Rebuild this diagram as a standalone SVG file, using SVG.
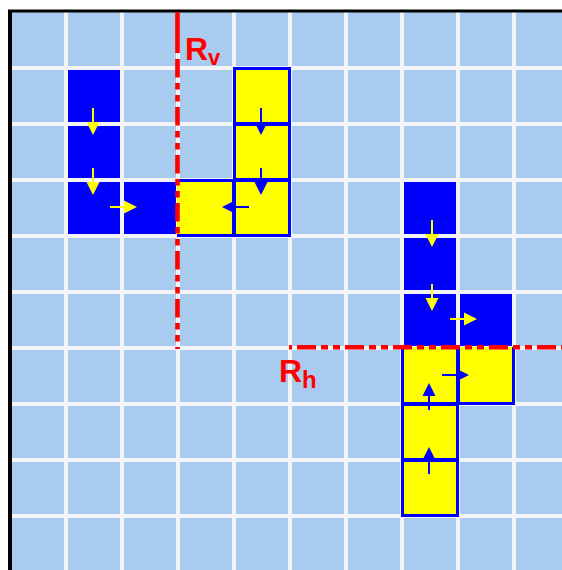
<svg xmlns="http://www.w3.org/2000/svg" width="562" height="570" viewBox="0 0 562 570">
<style>
.grid line{stroke:#F3F4F6;stroke-width:4}
.blue{fill:#0000FF}
.yel{fill:#FFFF00;stroke:#0000FF;stroke-width:3}
.cover{stroke:#FFFF00;stroke-width:3}
.red{stroke:#FF0000;stroke-width:4.6;fill:none}
.lbl{font-family:"Liberation Sans",Arial,sans-serif;font-weight:bold;fill:#FF0000}
</style>
<defs>
<g id="aY"><line x1="-14" y1="0" x2="2" y2="0" stroke="#FFFF00" stroke-width="2"/><polygon points="0,-6.5 13,0 0,6.5" fill="#FFFF00"/></g>
<g id="aB"><line x1="-14" y1="0" x2="2" y2="0" stroke="#0000FF" stroke-width="2"/><polygon points="0,-6.5 13,0 0,6.5" fill="#0000FF"/></g>
</defs>
<rect x="0" y="0" width="562" height="570" fill="#FFFFFF"/>
<rect x="10" y="12" width="552" height="558" fill="#A8CBEF"/>
<g id="blue-left">
<rect class="blue" x="66" y="68" width="56" height="168"/>
<rect class="blue" x="122" y="180" width="56" height="56"/>
</g>
<g id="blue-right">
<rect class="blue" x="402" y="180" width="56" height="168"/>
<rect class="blue" x="458" y="292" width="56" height="56"/>
</g>
<g class="grid">
<line x1="66" y1="12" x2="66" y2="570"/>
<line x1="122" y1="12" x2="122" y2="570"/>
<line x1="178" y1="12" x2="178" y2="570"/>
<line x1="234" y1="12" x2="234" y2="570"/>
<line x1="290" y1="12" x2="290" y2="570"/>
<line x1="346" y1="12" x2="346" y2="570"/>
<line x1="402" y1="12" x2="402" y2="570"/>
<line x1="458" y1="12" x2="458" y2="570"/>
<line x1="514" y1="12" x2="514" y2="570"/>
<line x1="10" y1="68" x2="562" y2="68"/>
<line x1="10" y1="124" x2="562" y2="124"/>
<line x1="10" y1="180" x2="562" y2="180"/>
<line x1="10" y1="236" x2="562" y2="236"/>
<line x1="10" y1="292" x2="562" y2="292"/>
<line x1="10" y1="348" x2="562" y2="348"/>
<line x1="10" y1="404" x2="562" y2="404"/>
<line x1="10" y1="460" x2="562" y2="460"/>
<line x1="10" y1="516" x2="562" y2="516"/>
</g>
<line x1="10" y1="10" x2="10" y2="570" stroke="#000000" stroke-width="4"/>
<line x1="8" y1="11" x2="562" y2="11" stroke="#000000" stroke-width="3"/>
<g id="yellow-top">
<rect class="yel" x="234.5" y="68.5" width="55" height="55"/>
<rect class="yel" x="234.5" y="124.5" width="55" height="55"/>
<rect class="yel" x="234.5" y="180.5" width="55" height="55"/>
<rect class="yel" x="178.5" y="180.5" width="55" height="55"/>
<line class="cover" x1="178.5" y1="182" x2="178.5" y2="234"/>
</g>
<g id="yellow-bottom">
<rect class="yel" x="402.5" y="348.5" width="55" height="55"/>
<rect class="yel" x="402.5" y="404.5" width="55" height="55"/>
<rect class="yel" x="402.5" y="460.5" width="55" height="55"/>
<rect class="yel" x="458.5" y="348.5" width="55" height="55"/>
<line class="cover" x1="404" y1="348.5" x2="456" y2="348.5"/>
<line class="cover" x1="460" y1="348.5" x2="512" y2="348.5"/>
</g>
<g id="connectors">
<use href="#aY" transform="translate(93,122) rotate(90)"/>
<use href="#aY" transform="translate(93,182) rotate(90)"/>
<use href="#aY" transform="translate(124,207)"/>
<use href="#aB" transform="translate(261,122) rotate(90)"/>
<use href="#aB" transform="translate(261,182) rotate(90)"/>
<use href="#aB" transform="translate(235,207) rotate(180)"/>
<use href="#aY" transform="translate(432,234) rotate(90)"/>
<use href="#aY" transform="translate(432,298) rotate(90)"/>
<use href="#aY" transform="translate(464,319)"/>
<use href="#aB" transform="translate(456,375)"/>
<use href="#aB" transform="translate(429,396) rotate(-90)"/>
<use href="#aB" transform="translate(429,460) rotate(-90)"/>
</g>
<g id="axes">
<line class="red" x1="177.5" y1="12" x2="177.5" y2="53"/>
<line class="red" x1="177.5" y1="59" x2="177.5" y2="349" stroke-dasharray="18.5 5.5 6.5 5.5 6.5 5.5"/>
<line class="red" x1="289" y1="347.3" x2="562" y2="347.3" stroke-dasharray="19 5 7 5 7 5" stroke-dashoffset="40"/>
</g>
<g id="label-rv"><text class="lbl" x="185" y="60" font-size="32">R<tspan font-size="22" dy="5">v</tspan></text></g>
<g id="label-rh"><text class="lbl" x="279" y="382" font-size="32">R<tspan font-size="24" dy="6">h</tspan></text></g>
</svg>
